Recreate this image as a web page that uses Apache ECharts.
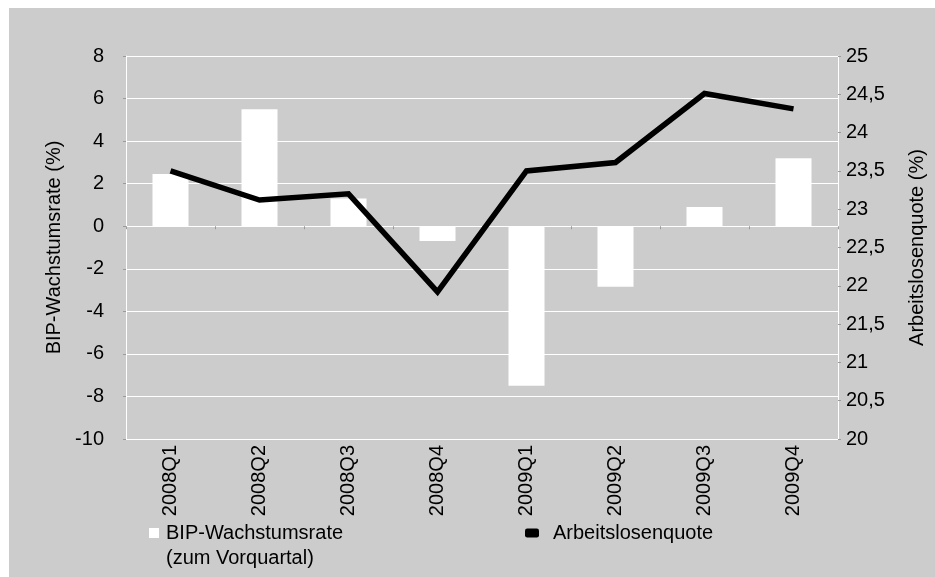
<!DOCTYPE html>
<html>
<head>
<meta charset="utf-8">
<script src="https://cdn.jsdelivr.net/npm/echarts@6/dist/echarts.min.js"></script>
<style>
html,body{margin:0;padding:0;background:#ffffff;width:935px;height:577px;overflow:hidden;}
#chart{position:absolute;left:9px;top:8px;width:926px;height:569px;background:#cccccc;}
</style>
</head>
<body>
<div id="chart"></div>
<script>
const categories = ['2008Q1','2008Q2','2008Q3','2008Q4','2009Q1','2009Q2','2009Q3','2009Q4'];
const bipGrowth = [2.45, 5.5, 1.3, -0.7, -7.5, -2.85, 0.9, 3.2];
const unemployment = [23.5, 23.12, 23.2, 21.92, 23.5, 23.61, 24.51, 24.31];
const leftTicks = {min: -10, max: 8, interval: 2};
const rightTicks = {min: 20, max: 25, interval: 0.5};
const barName = 'BIP-Wachstumsrate';
const barNameLine2 = '(zum Vorquartal)';
const lineName = 'Arbeitslosenquote';

const FONT = '"Liberation Sans", Arial, sans-serif';
const chart = echarts.init(document.getElementById('chart'), null, {renderer: 'canvas'});
chart.setOption({
  backgroundColor: '#cccccc',
  animation: false,
  textStyle: {fontFamily: FONT, color: '#000'},
  grid: {left: 117, right: 97, top: 48, bottom: 138, containLabel: false},
  legend: [
    {
      left: 135, top: 510, orient: 'horizontal',
      itemWidth: 10, itemHeight: 10, icon: 'rect',
      data: [{name: barName, itemStyle: {color: '#ffffff', borderWidth: 0}}],
      textStyle: {fontFamily: FONT, fontSize: 20, color: '#000', padding: [0, 0, 0, 2]}
    },
    {
      left: 511, top: 510, orient: 'horizontal',
      itemWidth: 14, itemHeight: 9, icon: 'roundRect',
      data: [{name: lineName, itemStyle: {color: '#000000'}}],
      textStyle: {fontFamily: FONT, fontSize: 20, color: '#000', padding: [0, 0, 0, 9]}
    }
  ],
  graphic: [
    {
      type: 'text', left: 157, top: 540, silent: true,
      style: {text: barNameLine2, fontFamily: FONT, fontSize: 20, fill: '#000'}
    }
  ],
  xAxis: [
    {
      type: 'category', data: categories, position: 'bottom',
      axisLine: {show: false, onZero: false},
      axisTick: {show: false},
      axisLabel: {rotate: 90, fontSize: 20, fontFamily: FONT, color: '#000', margin: 6},
      splitLine: {show: false}
    },
    {
      type: 'category', data: categories, position: 'bottom',
      axisLine: {show: true, onZero: true, lineStyle: {color: '#ffffff', width: 1}},
      axisTick: {show: true, length: 3, lineStyle: {color: '#9a9a9a'}},
      axisLabel: {show: false},
      splitLine: {show: false}
    }
  ],
  yAxis: [
    {
      type: 'value', min: leftTicks.min, max: leftTicks.max, interval: leftTicks.interval,
      position: 'left',
      name: 'BIP-Wachstumsrate (%)', nameLocation: 'middle', nameGap: 62,
      nameTextStyle: {fontSize: 20, fontFamily: FONT, color: '#000'},
      axisLine: {show: true, lineStyle: {color: '#ffffff', width: 1}},
      axisTick: {show: true, length: 3, lineStyle: {color: '#9a9a9a'}},
      axisLabel: {fontSize: 20, fontFamily: FONT, color: '#000', margin: 22},
      splitLine: {show: true, lineStyle: {color: '#ffffff', width: 1}}
    },
    {
      type: 'value', min: rightTicks.min, max: rightTicks.max, interval: rightTicks.interval,
      position: 'right',
      name: 'Arbeitslosenquote (%)', nameLocation: 'middle', nameGap: 69,
      nameTextStyle: {fontSize: 20, fontFamily: FONT, color: '#000'},
      axisLine: {show: true, lineStyle: {color: '#ffffff', width: 1}},
      axisTick: {show: true, length: 3, lineStyle: {color: '#9a9a9a'}},
      axisLabel: {fontSize: 20, fontFamily: FONT, color: '#000', margin: 8,
        formatter: function (v) { return String(v).replace('.', ','); }},
      splitLine: {show: false}
    }
  ],
  series: [
    {
      name: barName, type: 'bar', xAxisIndex: 0, yAxisIndex: 0,
      data: bipGrowth, barWidth: 36,
      itemStyle: {color: '#ffffff'}
    },
    {
      name: lineName, type: 'line', xAxisIndex: 0, yAxisIndex: 1,
      data: unemployment, symbol: 'none', showSymbol: false,
      lineStyle: {color: '#000000', width: 5.5, cap: 'butt', join: 'miter'},
      itemStyle: {color: '#000000'},
      z: 5
    }
  ]
});
</script>
</body>
</html>
